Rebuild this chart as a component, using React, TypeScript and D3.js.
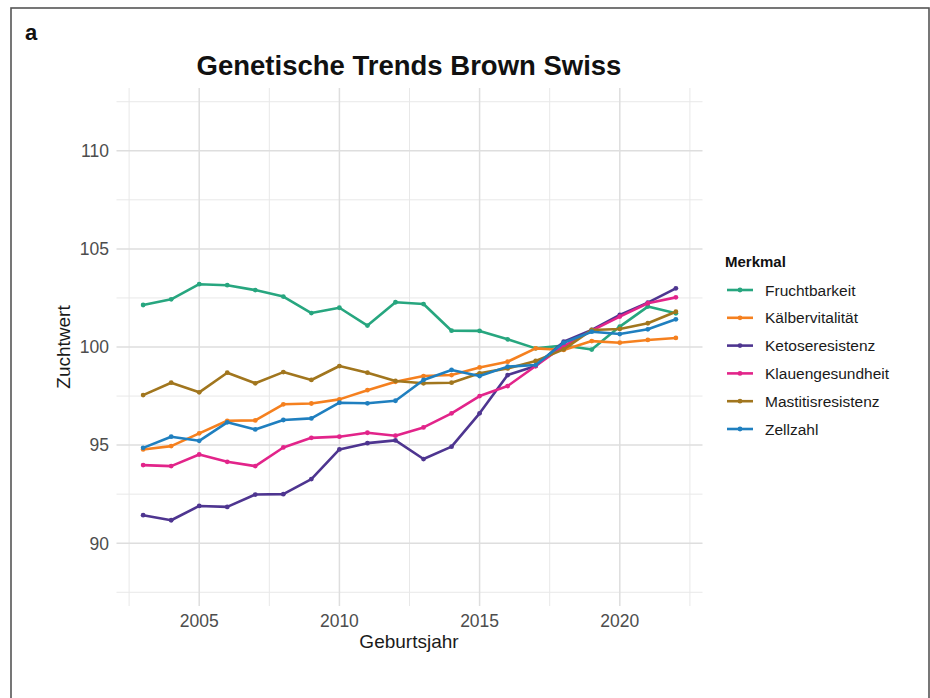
import React from "react";
import * as d3 from "d3";

const years = [2003, 2004, 2005, 2006, 2007, 2008, 2009, 2010, 2011, 2012, 2013, 2014, 2015, 2016, 2017, 2018, 2019, 2020, 2021, 2022];

const fruchtbarkeit = [102.14, 102.43, 103.2, 103.15, 102.9, 102.57, 101.73, 102.0, 101.09, 102.28, 102.19, 100.83, 100.82, 100.39, 99.93, 100.08, 99.87, 101.04, 102.06, 101.72];
const kaelbervitalitaet = [94.78, 94.95, 95.6, 96.24, 96.26, 97.08, 97.12, 97.33, 97.8, 98.23, 98.52, 98.57, 98.96, 99.25, 99.93, 99.85, 100.3, 100.22, 100.36, 100.46];
const ketoseresistenz = [91.43, 91.17, 91.9, 91.85, 92.48, 92.5, 93.27, 94.78, 95.1, 95.24, 94.29, 94.92, 96.62, 98.57, 99.03, 100.27, 100.87, 101.63, 102.26, 102.99];
const klauengesundheit = [93.98, 93.93, 94.52, 94.15, 93.93, 94.88, 95.37, 95.43, 95.63, 95.48, 95.9, 96.62, 97.5, 98.01, 99.03, 100.05, 100.83, 101.55, 102.23, 102.53];
const mastitisresistenz = [97.55, 98.18, 97.69, 98.69, 98.15, 98.72, 98.32, 99.03, 98.69, 98.27, 98.15, 98.18, 98.66, 98.91, 99.29, 99.88, 100.87, 100.92, 101.21, 101.8];
const zellzahl = [94.86, 95.43, 95.22, 96.16, 95.8, 96.28, 96.36, 97.16, 97.13, 97.26, 98.32, 98.83, 98.52, 99.0, 99.08, 100.22, 100.78, 100.66, 100.9, 101.41];

const seriesNames = ["Fruchtbarkeit", "Kälbervitalität", "Ketoseresistenz", "Klauengesundheit", "Mastitisresistenz", "Zellzahl"];
const seriesValues = [fruchtbarkeit, kaelbervitalitaet, ketoseresistenz, klauengesundheit, mastitisresistenz, zellzahl];
const seriesColors = ["#27a67f", "#f5801f", "#4e3590", "#e2248a", "#a1761e", "#1f7fbf"];

const xTicks = [2005, 2010, 2015, 2020];
const xMinor = [2002.5, 2007.5, 2012.5, 2017.5, 2022.5];
const yTicks = [90, 95, 100, 105, 110];
const yMinor = [87.5, 92.5, 97.5, 102.5, 107.5, 112.5];

const FONT = "'Liberation Sans', Arial, Helvetica, sans-serif";

export default function App() {
  const W = 930, H = 698;
  const panel = { left: 116.5, right: 702.5, top: 88, bottom: 606 };
  const x = d3.scaleLinear().domain([2002.05, 2022.95]).range([panel.left, panel.right]);
  const y = d3.scaleLinear().domain([86.8, 113.2]).range([panel.bottom, panel.top]);

  const line = d3.line<[number, number]>().x((d) => x(d[0])).y((d) => y(d[1]));

  const legendX = 725;
  const legendY0 = 290;
  const legendStep = 27.8;

  return (
    <svg width={W} height={H} style={{ position: "fixed", left: 0, top: 0, background: "#fff" }} fontFamily={FONT}>
      <rect x={0} y={0} width={W} height={H} fill="#fff" />
      <rect x={11} y={8} width={918} height={720} fill="none" stroke="#555" strokeWidth={1.6} />
      <text x={25} y={40} fontSize={22} fontWeight="bold" fill="#111">a</text>
      <text x={409} y={75} fontSize={27.5} fontWeight="bold" textAnchor="middle" fill="#111">Genetische Trends Brown Swiss</text>

      {/* grid */}
      {yMinor.map((v) => (
        <line key={"ym" + v} x1={panel.left} x2={panel.right} y1={y(v)} y2={y(v)} stroke="#e8e8e8" strokeWidth={1} />
      ))}
      {xMinor.map((v) => (
        <line key={"xm" + v} x1={x(v)} x2={x(v)} y1={panel.top} y2={panel.bottom} stroke="#e8e8e8" strokeWidth={1} />
      ))}
      {yTicks.map((v) => (
        <line key={"yM" + v} x1={panel.left} x2={panel.right} y1={y(v)} y2={y(v)} stroke="#dedede" strokeWidth={1.5} />
      ))}
      {xTicks.map((v) => (
        <line key={"xM" + v} x1={x(v)} x2={x(v)} y1={panel.top} y2={panel.bottom} stroke="#dedede" strokeWidth={1.5} />
      ))}

      {/* axis labels */}
      {yTicks.map((v) => (
        <text key={"yl" + v} x={109} y={y(v)} dy="0.36em" fontSize={17.5} textAnchor="end" fill="#4d4d4d">{v}</text>
      ))}
      {xTicks.map((v) => (
        <text key={"xl" + v} x={x(v)} y={627} fontSize={17.5} textAnchor="middle" fill="#4d4d4d">{v}</text>
      ))}
      <text x={409} y={648} fontSize={19} textAnchor="middle" fill="#1a1a1a">Geburtsjahr</text>
      <text transform={`translate(70, ${(panel.top + panel.bottom) / 2}) rotate(-90)`} fontSize={19} textAnchor="middle" fill="#1a1a1a">Zuchtwert</text>

      {/* series */}
      {seriesValues.map((vals, i) => {
        const pts = years.map((yr, j) => [yr, vals[j]] as [number, number]);
        return (
          <g key={seriesNames[i]}>
            <path d={line(pts) || ""} fill="none" stroke={seriesColors[i]} strokeWidth={2.6} strokeLinejoin="round" strokeLinecap="round" />
            {pts.map((p, j) => (
              <circle key={j} cx={x(p[0])} cy={y(p[1])} r={2.4} fill={seriesColors[i]} />
            ))}
          </g>
        );
      })}

      {/* legend */}
      <text x={legendX} y={267} fontSize={15} fontWeight="bold" fill="#111">Merkmal</text>
      {seriesNames.map((name, i) => {
        const cy = legendY0 + i * legendStep;
        return (
          <g key={"lg" + name}>
            <line x1={727} x2={753} y1={cy} y2={cy} stroke={seriesColors[i]} strokeWidth={2.6} />
            <circle cx={740} cy={cy} r={2.4} fill={seriesColors[i]} />
            <text x={765} y={cy} dy="0.36em" fontSize={15.5} fill="#1a1a1a">{name}</text>
          </g>
        );
      })}
    </svg>
  );
}
